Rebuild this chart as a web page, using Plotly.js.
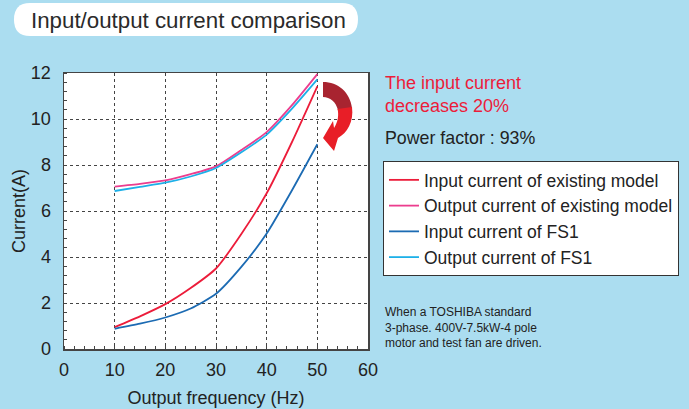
<!DOCTYPE html>
<html>
<head>
<meta charset="utf-8">
<script src="https://cdn.plot.ly/plotly-3.0.1.min.js"></script>
<style>
html,body{margin:0;padding:0;background:#ABDDF0;}
#chart{width:689px;height:409px;}
</style>
</head>
<body>
<div id="chart"></div>
<script>
// ---- data ----
var frequency = [10, 15, 20, 25, 30, 35, 40, 45, 50];
var inputExisting  = [0.95, 1.42, 1.95, 2.65, 3.5, 5.0, 6.77, 9.0, 11.42];
var outputExisting = [7.06, 7.18, 7.33, 7.6, 7.94, 8.65, 9.43, 10.6, 11.95];
var inputFS1       = [0.88, 1.1, 1.37, 1.76, 2.4, 3.57, 5.02, 6.9, 8.9];
var outputFS1      = [6.87, 7.05, 7.23, 7.5, 7.87, 8.55, 9.32, 10.45, 11.72];
var seriesNames = ["Input current of existing model", "Output current of existing model",
                   "Input current of FS1", "Output current of FS1"];
var xTicks = [0, 10, 20, 30, 40, 50, 60];
var yTicks = [0, 2, 4, 6, 8, 10, 12];

var W = 689, H = 409;
var M = {l: 64, r: 321, t: 73, b: 60};
var PW = W - M.l - M.r, PH = H - M.t - M.b;
function pxX(x){ return ((x - M.l) / PW).toFixed(4); }
function pxY(y){ return ((H - M.b - y) / PH).toFixed(4); }
function path(cmds){
  return cmds.map(function(c){
    if (c[0] === 'Z') return 'Z';
    var s = c[0];
    for (var i = 1; i < c.length; i += 2) s += ' ' + pxX(c[i]) + ',' + pxY(c[i+1]);
    return s;
  }).join(' ');
}

var font = "Liberation Sans, Arial, Helvetica, sans-serif";
var colors = ['#EC1C3A', '#EC3D8E', '#1C6BB3', '#1DB0E8'];
var ys = [inputExisting, outputExisting, inputFS1, outputFS1];

var traces = ys.map(function(v, i){
  return {
    x: frequency, y: v, type: 'scatter', mode: 'lines', name: seriesNames[i],
    line: {color: colors[i], width: 1.8, shape: 'spline', smoothing: 0.6},
    cliponaxis: false
  };
});

// title rounded box
var tb = {x0: 14, x1: 358, y0: 3, y1: 36, r: 16};
var titleBox = path([
  ['M', tb.x0 + tb.r, tb.y0], ['L', tb.x1 - tb.r, tb.y0],
  ['Q', tb.x1, tb.y0, tb.x1, (tb.y0 + tb.y1) / 2],
  ['Q', tb.x1, tb.y1, tb.x1 - tb.r, tb.y1],
  ['L', tb.x0 + tb.r, tb.y1],
  ['Q', tb.x0, tb.y1, tb.x0, (tb.y0 + tb.y1) / 2],
  ['Q', tb.x0, tb.y0, tb.x0 + tb.r, tb.y0], ['Z']
]);

// curved arrow: upper (dark) part and lower (bright) part
var arrowTop = path([
  ['M', 323, 82],
  ['C', 338, 82, 350, 92, 352, 108],
  ['L', 338, 110],
  ['C', 336, 102, 330, 97, 323, 97], ['Z']
]);
var arrowBottom = path([
  ['M', 352, 107],
  ['C', 354, 122, 347, 133, 338, 138],
  ['L', 334, 151],
  ['L', 323, 138],
  ['L', 333, 121],
  ['L', 334, 128],
  ['C', 338, 122, 339, 115, 337.5, 109], ['Z']
]);

var layout = {
  width: W, height: H,
  paper_bgcolor: '#ABDDF0', plot_bgcolor: '#FFFFFF',
  margin: {l: M.l, r: M.r, t: M.t, b: M.b, autoexpand: false},
  font: {family: font, color: '#222', size: 18},
  showlegend: true,
  legend: {
    x: pxX(383), y: pxY(161), xanchor: 'left', yanchor: 'top',
    bgcolor: '#FFFFFF', bordercolor: '#333', borderwidth: 1,
    font: {family: font, size: 17.5, color: '#222'},
    itemwidth: 30, tracegroupgap: 0
  },
  xaxis: {
    range: [0, 60], tickvals: xTicks, ticktext: xTicks.map(String),
    tickfont: {size: 18, family: font, color: '#222'},
    showgrid: true, gridcolor: '#444', griddash: 'dot', gridwidth: 1,
    zeroline: false, showline: true, mirror: true, linecolor: '#444', linewidth: 1.5,
    ticks: '', ticklabelstandoff: 4,
    minor: {dtick: 2, tick0: 0, ticks: 'inside', ticklen: 3, tickcolor: '#444', tickwidth: 1, showgrid: false},
    title: {text: 'Output frequency (Hz)', font: {size: 18, family: font, color: '#222'}, standoff: 12}
  },
  yaxis: {
    range: [0, 12], tickvals: yTicks, ticktext: yTicks.map(String),
    tickfont: {size: 18, family: font, color: '#222'},
    showgrid: true, gridcolor: '#444', griddash: 'dot', gridwidth: 1,
    zeroline: false, showline: true, mirror: true, linecolor: '#444', linewidth: 1.5,
    ticks: '', ticklabelstandoff: 8,
    minor: {dtick: 0.4, tick0: 0, ticks: 'inside', ticklen: 3, tickcolor: '#444', tickwidth: 1, showgrid: false},
    title: {text: 'Current(A)', font: {size: 18, family: font, color: '#222'}, standoff: 0}
  },
  shapes: [
    {type: 'path', xref: 'paper', yref: 'paper', path: titleBox, fillcolor: '#FFFFFF', line: {width: 0}, layer: 'below'},
    {type: 'path', xref: 'paper', yref: 'paper', path: arrowTop, fillcolor: '#A82430', line: {width: 0}},
    {type: 'path', xref: 'paper', yref: 'paper', path: arrowBottom, fillcolor: '#E81E27', line: {width: 0}}
  ],
  annotations: [
    {xref: 'paper', yref: 'paper', x: pxX(29), y: pxY(20), xanchor: 'left', yanchor: 'middle',
     text: 'Input/output current comparison', showarrow: false, font: {size: 22.3, color: '#2a2a2a', family: font}},
    {xref: 'paper', yref: 'paper', x: pxX(383), y: pxY(94), xanchor: 'left', yanchor: 'middle', align: 'left',
     text: 'The input current<br>decreases 20%', showarrow: false, font: {size: 18, color: '#EC1C3A', family: font}},
    {xref: 'paper', yref: 'paper', x: pxX(383), y: pxY(138), xanchor: 'left', yanchor: 'middle',
     text: 'Power factor : 93%', showarrow: false, font: {size: 17.8, color: '#222', family: font}},
    {xref: 'paper', yref: 'paper', x: pxX(383), y: pxY(328), xanchor: 'left', yanchor: 'middle', align: 'left',
     text: 'When a TOSHIBA standard<br>3-phase. 400V-7.5kW-4 pole<br>motor and test fan are driven.',
     showarrow: false, font: {size: 12, color: '#222', family: font}}
  ]
};

Plotly.newPlot('chart', traces, layout, {displayModeBar: false, staticPlot: true});
</script>
</body>
</html>
